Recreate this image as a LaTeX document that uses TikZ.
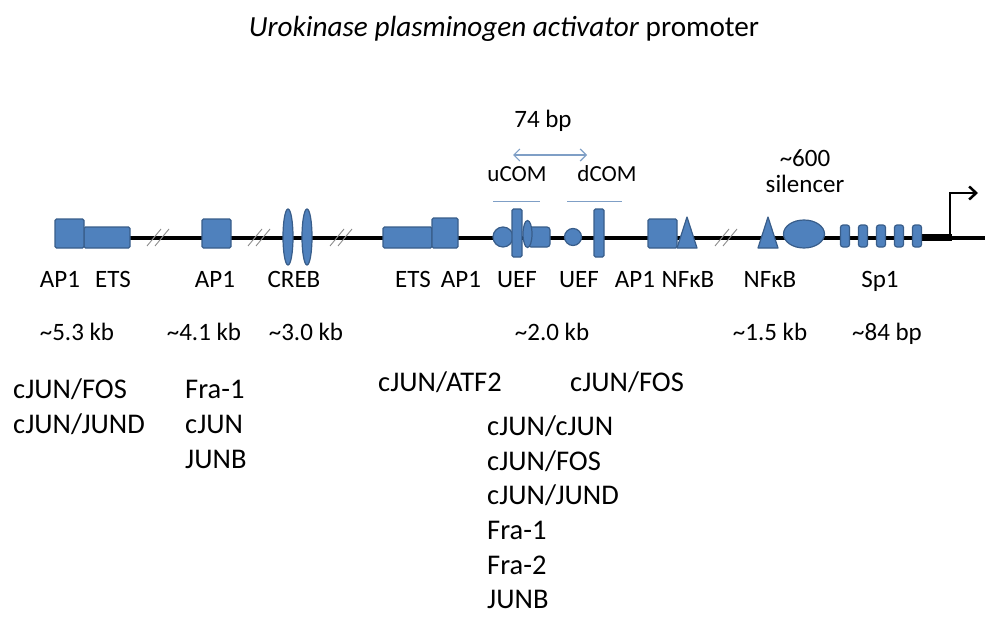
\documentclass[tikz,border=0pt]{standalone}
\usepackage{fontspec}
\setmainfont{Carlito}
\usetikzlibrary{arrows.meta}
\definecolor{boxfill}{HTML}{4F81BD}
\definecolor{boxline}{HTML}{385D8A}
\definecolor{comline}{HTML}{7F9FC6}
\definecolor{breakcol}{HTML}{8C8C8C}
\tikzset{
  elem/.style={fill=boxfill,draw=boxline,line width=1.2pt,rounded corners=1.5pt},
  oval/.style={fill=boxfill,draw=boxline,line width=1.2pt},
  brk/.style={draw=breakcol,line width=0.9pt},
  lab/.style={font=\fontsize{25}{30}\selectfont,anchor=base,inner sep=0pt},
  smlab/.style={font=\fontsize{23}{28}\selectfont,anchor=base,inner sep=0pt},
  fac/.style={font=\fontsize{28.5}{34}\selectfont,anchor=base west,inner sep=0pt},
}
\begin{document}
\begin{tikzpicture}[x=1pt,y=-1pt]
\useasboundingbox (0,0) rectangle (999,623);
% title
\node[font=\fontsize{29.2}{35}\selectfont,anchor=base,inner sep=0pt] (title) at (504,37) {\textit{Urokinase plasminogen activator} promoter};
% main line
\coordinate (L) at (55,237.5);
\coordinate (R) at (985,237.5);
\draw[line width=4pt] (L) -- (R);
\coordinate (T1) at (922,237.5);
\coordinate (T2) at (952,237.5);
\draw[line width=7.5pt] (T1) -- (T2);
% transcription start arrow
\coordinate (tss) at (950,237.5);
\coordinate (tssTop) at (950,193);
\coordinate (tssEnd) at (978,193);
\draw[line width=2.5pt,-{Straight Barb[length=7pt,width=13pt,line width=2.5pt]}] (tss) -- (tssTop) -- (tssEnd);
% break marks
\foreach \bx in {160,261,343,728}{
  \draw[brk] (\bx-13,246) -- (\bx+1,229);
  \draw[brk] (\bx-5,246) -- (\bx+9,229);
}
% ~5.3 kb
\draw[elem] (84,227) rectangle (130,248);
\draw[elem] (55,219) rectangle (84,248);
% ~4.1 kb
\draw[elem] (202,219) rectangle (231,248);
% CREB
\draw[oval] (288,237) ellipse [x radius=5, y radius=28];
\draw[oval] (307,237) ellipse [x radius=5, y radius=28];
% ETS AP1
\draw[elem] (383,227) rectangle (432,248);
\draw[elem] (432,218) rectangle (458,248);
% UEF 1
\draw[oval] (503,237) circle [radius=10];
\draw[elem,rounded corners=3pt] (528,227) rectangle (550,247);
\draw[oval] (527.5,234) ellipse [x radius=4.5, y radius=13.5];
\draw[elem] (512,209) rectangle (522,257);
% UEF 2
\draw[oval] (573,237) circle [radius=8.5];
\draw[elem] (594,209) rectangle (604,257);
% AP1 NFkB
\draw[elem] (648,219) rectangle (677,248);
\draw[oval,line join=round] (677,248) -- (687,217) -- (697,248) -- cycle;
% NFkB + silencer
\draw[oval,line join=round] (758,248) -- (768,217) -- (778,248) -- cycle;
\draw[oval] (804,234) ellipse [x radius=20.5, y radius=14];
% Sp1
\foreach \sx in {845,863,881,899,917}{
  \draw[elem,rounded corners=2.5pt] (\sx-4.5,225) rectangle (\sx+4.5,247);
}
% COM
\coordinate (arA) at (513,155);
\coordinate (arB) at (587,155);
\draw[comline,line width=1.2pt,{Straight Barb[length=6pt,width=12pt]}-{Straight Barb[length=6pt,width=12pt]}] (arA) -- (arB);
\node[lab] (bp74) at (543,128) {74 bp};
\node[smlab] (ucom) at (517,182) {uCOM};
\node[smlab] (dcom) at (607,182) {dCOM};
\coordinate (u1) at (493,201); \coordinate (u2) at (540,201);
\coordinate (d1) at (567,201); \coordinate (d2) at (622,201);
\draw[comline,line width=1pt] (u1) -- (u2);
\draw[comline,line width=1pt] (d1) -- (d2);
\node[lab] (s600) at (805,167) {\textasciitilde600};
\node[lab] (sil) at (805,193) {silencer};
% element labels
\node[lab] (l1) at (60,287) {AP1};
\node[lab] (l2) at (113,287) {ETS};
\node[lab] (l3) at (215,287) {AP1};
\node[lab] (l4) at (294,287) {CREB};
\node[lab] (l5) at (413,287) {ETS};
\node[lab] (l6) at (461,287) {AP1};
\node[lab] (l7) at (517,287) {UEF};
\node[lab] (l8) at (579,287) {UEF};
\node[lab] (l9) at (635,287) {AP1};
\node[lab] (l10) at (688,287) {NFκB};
\node[lab] (l11) at (770,287) {NFκB};
\node[lab] (l12) at (880,287) {Sp1};
% distances
\node[lab] (d53) at (77,340) {\textasciitilde5.3 kb};
\node[lab] (d41) at (204,340) {\textasciitilde4.1 kb};
\node[lab] (d30) at (306,340) {\textasciitilde3.0 kb};
\node[lab] (d20) at (552,340) {\textasciitilde2.0 kb};
\node[lab] (d15) at (770,340) {\textasciitilde1.5 kb};
\node[lab] (d84) at (887,340) {\textasciitilde84 bp};
% factors
\node[fac] (f1) at (13,398) {cJUN/FOS};
\node[fac] (f2) at (13,433) {cJUN/JUND};
\node[fac] (f3) at (185,398) {Fra-1};
\node[fac] (f4) at (185,433) {cJUN};
\node[fac] (f5) at (185,468) {JUNB};
\node[fac] (f6) at (378,391) {cJUN/ATF2};
\node[fac] (f7) at (570,391) {cJUN/FOS};
\node[fac] (f8) at (487,435) {cJUN/cJUN};
\node[fac] (f9) at (487,470) {cJUN/FOS};
\node[fac] (f10) at (487,504) {cJUN/JUND};
\node[fac] (f11) at (487,539) {Fra-1};
\node[fac] (f12) at (487,574) {Fra-2};
\node[fac] (f13) at (487,608) {JUNB};
\end{tikzpicture}
\end{document}
